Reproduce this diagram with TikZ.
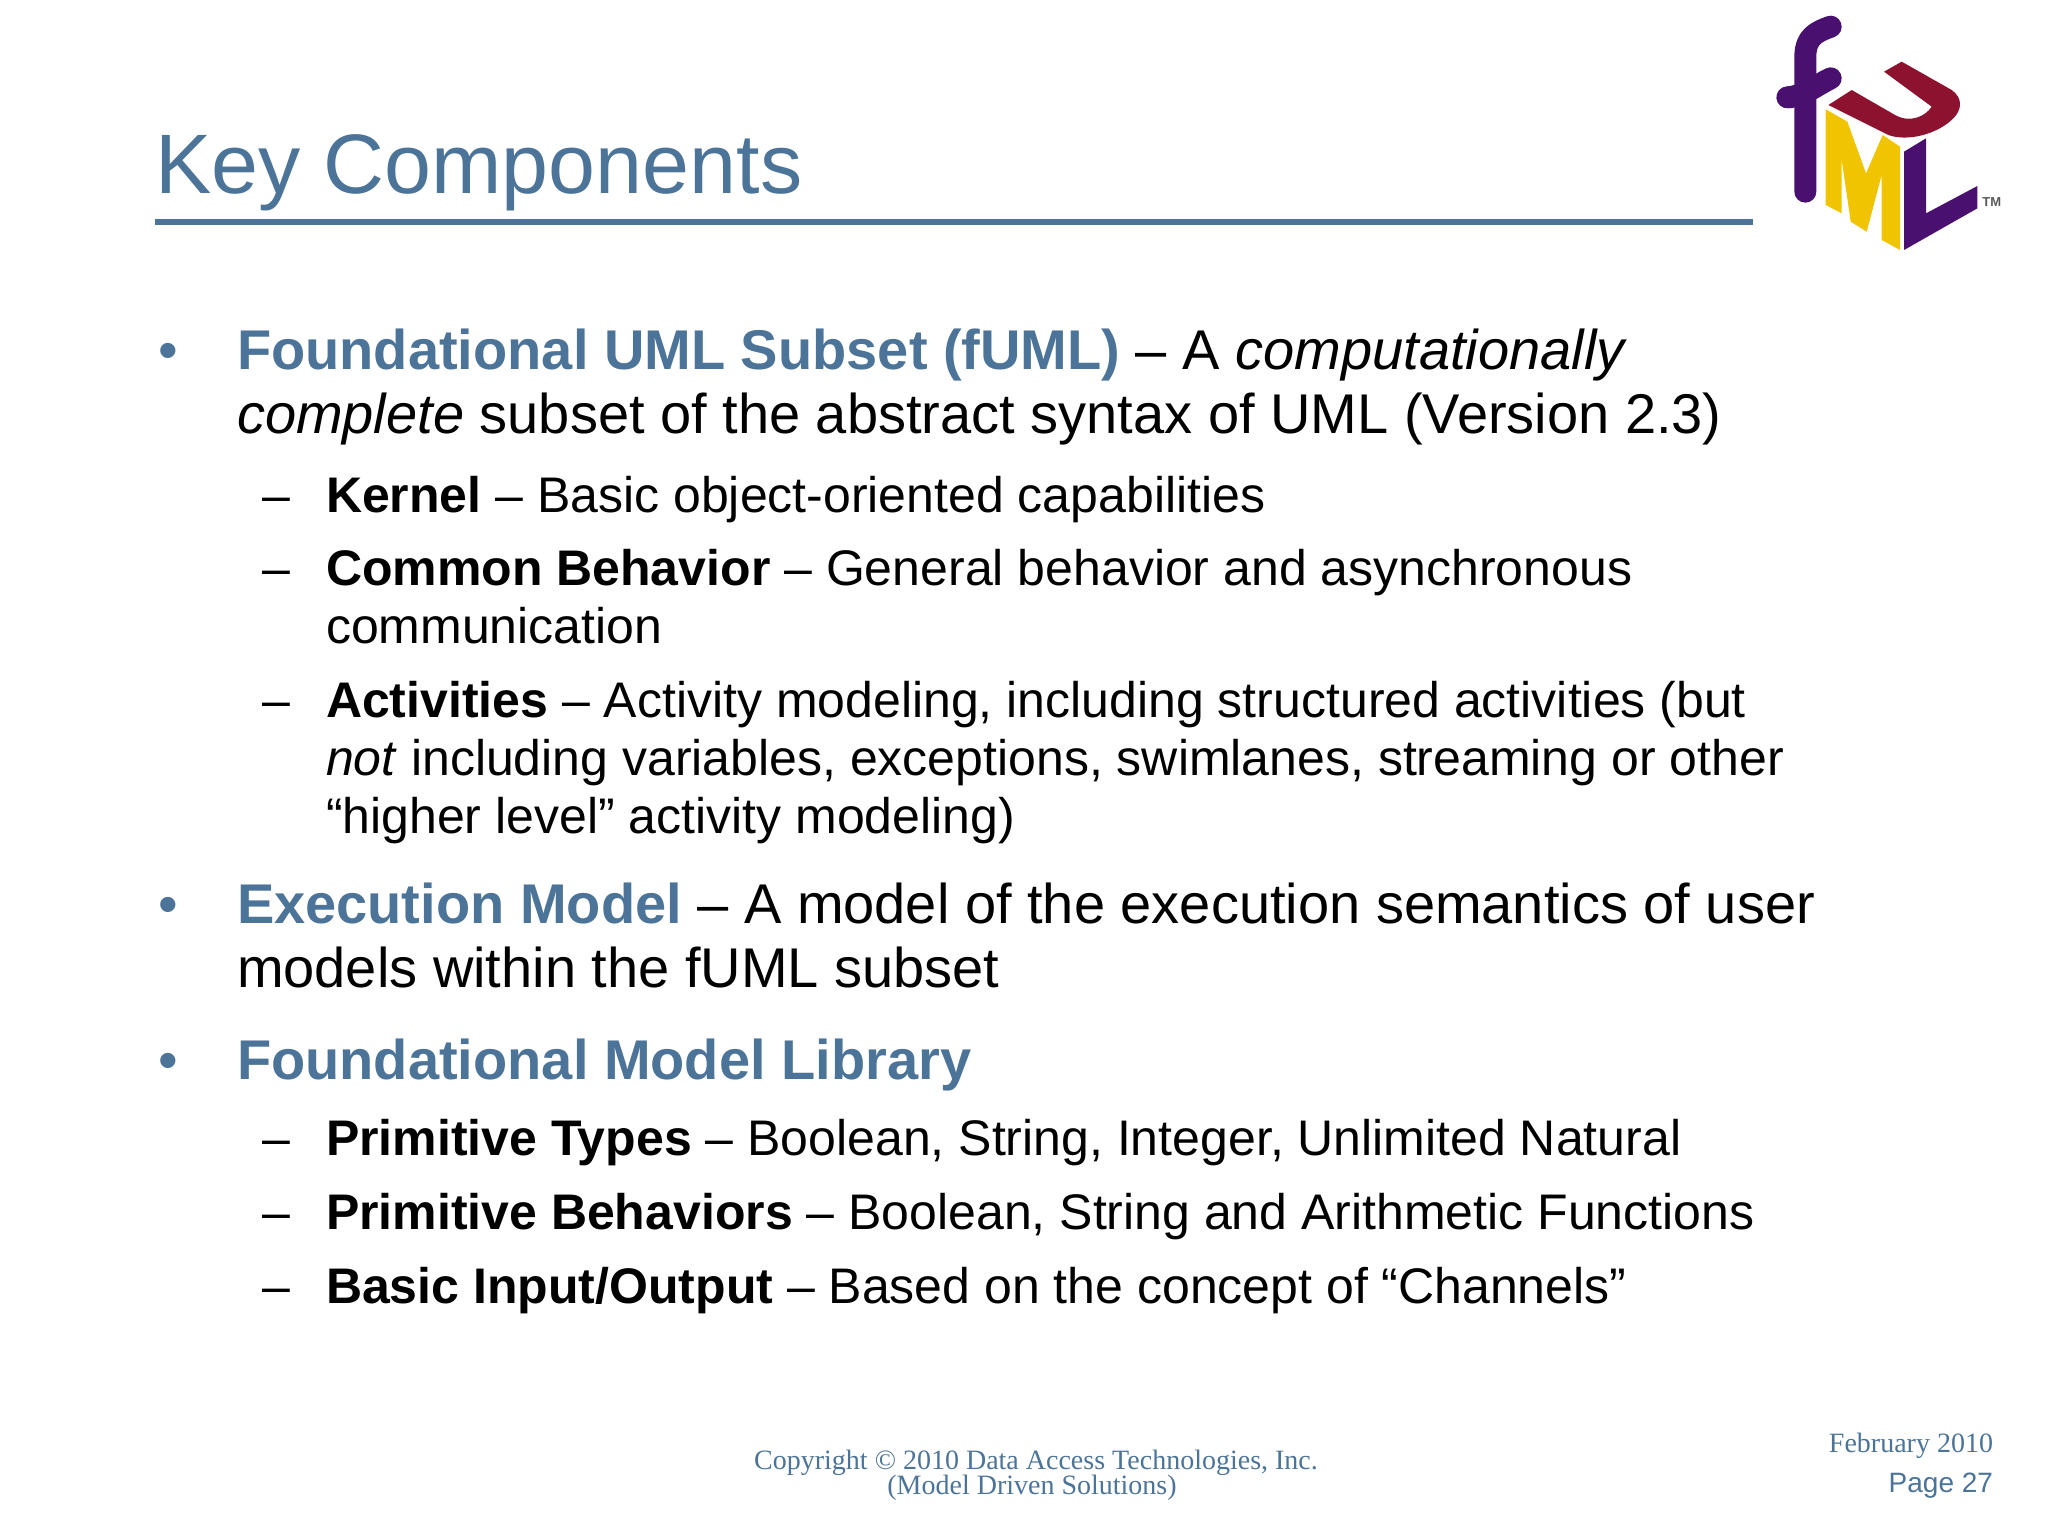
\documentclass[tikz,border=0pt]{standalone}
\usepackage{fontspec}
\setmainfont{Liberation Sans}
\newfontfamily\footerfont{Liberation Serif}
\usepackage{tikz}
\definecolor{slideblue}{HTML}{4C7499}
\definecolor{logopurple}{HTML}{4A1070}
\definecolor{logomaroon}{HTML}{8C1230}
\definecolor{logoyellow}{HTML}{F0C400}
\newcommand{\hd}[1]{\textbf{\textcolor{slideblue}{#1}}}

\begin{document}
\begin{tikzpicture}[x=0.5pt,y=-0.5pt,
  every node/.style = {inner sep=0pt, outer sep=0pt, anchor=base west},
  titletext/.style = {font=\fontsize{42.2}{50}\selectfont, text=slideblue},
  lvlone/.style = {font=\fontsize{28}{32}\selectfont},
  lvltwo/.style = {font=\fontsize{25}{29}\selectfont},
  bulletmark/.style = {font=\fontsize{28}{32}\selectfont, text=slideblue},
  dashmark/.style = {font=\fontsize{25}{29}\selectfont},
  footerserif/.style = {font=\footerfont\fontsize{14}{16}\selectfont, text=slideblue},
  footersans/.style = {font=\fontsize{14}{16}\selectfont, text=slideblue}]
  \useasboundingbox (0,0) rectangle (2048,1536);

  % header
  \node[titletext] (title) at (155,193) {Key Components};
  \coordinate (ruleL) at (155,222);
  \coordinate (ruleR) at (1753,222);
  \draw[slideblue, line width=3.2pt] (ruleL) -- (ruleR);

  % first block
  \node[bulletmark] (bulA) at (158,369) {•};
  \node[lvlone] (fumlA) at (237,369) {\hd{Foundational UML Subset (fUML)} – A \textit{computationally}};
  \node[lvlone] (fumlB) at (237,433) {\textit{complete} subset of the abstract syntax of UML (Version 2.3)};
  \node[dashmark] (dashA) at (262,512) {–};
  \node[lvltwo] (kernel) at (326,512) {\textbf{Kernel} – Basic object-oriented capabilities};
  \node[dashmark] (dashB) at (262,585) {–};
  \node[lvltwo] (commonA) at (326,585) {\textbf{Common Behavior} – General behavior and asynchronous};
  \node[lvltwo] (commonB) at (326,643) {communication};
  \node[dashmark] (dashC) at (262,717) {–};
  \node[lvltwo] (actA) at (326,717) {\textbf{Activities} – Activity modeling, including structured activities (but};
  \node[lvltwo] (actB) at (326,775) {\textit{not} including variables, exceptions, swimlanes, streaming or other};
  \node[lvltwo] (actC) at (326,833) {“higher level” activity modeling)};

  % second block
  \node[bulletmark] (bulB) at (158,923) {•};
  \node[lvlone] (execA) at (237,923) {\hd{Execution Model} – A model of the execution semantics of user};
  \node[lvlone] (execB) at (237,987) {models within the fUML subset};

  % third block
  \node[bulletmark] (bulC) at (158,1079) {•};
  \node[lvlone] (lib) at (237,1079) {\hd{Foundational Model Library}};
  \node[dashmark] (dashD) at (262,1155) {–};
  \node[lvltwo] (types) at (326,1155) {\textbf{Primitive Types} – Boolean, String, Integer, Unlimited Natural};
  \node[dashmark] (dashE) at (262,1229) {–};
  \node[lvltwo] (behav) at (326,1229) {\textbf{Primitive Behaviors} – Boolean, String and Arithmetic Functions};
  \node[dashmark] (dashF) at (262,1303) {–};
  \node[lvltwo] (basic) at (326,1303) {\textbf{Basic Input/Output} – Based on the concept of “Channels”};

  % footer
  \node[footerserif, anchor=base] (copyA) at (1036,1469) {Copyright © 2010 Data Access Technologies, Inc.};
  \node[footerserif, anchor=base] (copyB) at (1032,1494) {(Model Driven Solutions)};
  \node[footerserif, anchor=base east] (date) at (1993,1452) {February 2010};
  \node[footersans, anchor=base east] (page) at (1993,1492) {Page 27};

  % logo
  \begin{scope}[x=0.16667pt,y=-0.16667pt,shift={(880pt,0pt)}]
    \draw[logopurple, line width=11pt, line cap=round, line join=round]
      (136,575) -- (136,170) .. controls (136,110) and (170,95) .. (212,80);
    \draw[logopurple, line width=11pt, line cap=round] (82,292) .. controls (130,290) and (170,255) .. (212,235);
    \fill[logoyellow] (197,328) -- (262,365) -- (318,520) -- (368,405) -- (420,440) -- (420,750)
      -- (365,720) -- (365,525) -- (320,695) -- (272,665) -- (245,480) -- (245,640) -- (197,615) -- cycle;
    \fill[logomaroon] (205,315) -- (275,270) -- (405,345) .. controls (450,370) and (495,350) .. (515,320)
      -- (372,215) -- (425,185) -- (575,270) .. controls (610,295) and (605,330) .. (580,355)
      .. controls (530,405) and (440,425) .. (385,405) -- cycle;
    \fill[logopurple] (432,455) -- (498,415) -- (498,640) -- (652,558) -- (652,625) -- (432,750) -- cycle;
    \node[font=\bfseries\fontsize{6.5}{7}\selectfont, text=black!65, anchor=base] (tm) at (695,620) {TM};
  \end{scope}
\end{tikzpicture}
\end{document}
